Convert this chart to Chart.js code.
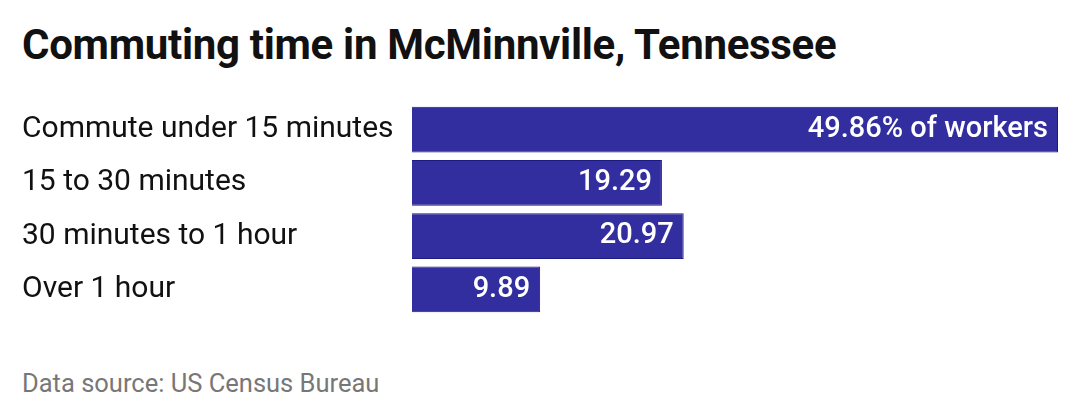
<!DOCTYPE html>
<html><head><meta charset="utf-8">
<script src="https://cdn.jsdelivr.net/npm/chart.js@4"></script>
<style>
body{margin:0;width:1080px;height:420px;background:#fff;font-family:Roboto,sans-serif;position:relative;overflow:hidden}
#t{position:absolute;left:22px;top:20px;font-size:42px;line-height:50px;font-weight:bold;color:#111;letter-spacing:-0.3px}
#s{position:absolute;left:22px;top:368px;font-size:25.5px;line-height:30px;color:#777}
canvas{position:absolute;left:22px;top:85px}
</style></head><body>
<div id="t">Commuting time in McMinnville, Tennessee</div>
<canvas id="c" width="1058" height="249" style="width:1058px;height:249px"></canvas>
<div id="s">Data source: US Census Bureau</div>
<script>
const categories=["Commute under 15 minutes","15 to 30 minutes","30 minutes to 1 hour","Over 1 hour"];
const values=[49.86,19.29,20.97,9.89];
const valueLabels=["49.86% of workers","19.29","20.97","9.89"];
const lab={id:'lab',afterDatasetsDraw(ch){const ctx=ch.ctx;const m=ch.getDatasetMeta(0);ctx.save();ctx.fillStyle='#fff';ctx.font='500 29px Roboto';ctx.textAlign='right';ctx.textBaseline='middle';m.data.forEach((b,i)=>ctx.fillText(valueLabels[i],b.x-10,b.y));ctx.restore();}};
new Chart(document.getElementById('c'),{type:'bar',data:{labels:categories,datasets:[{data:values,backgroundColor:'#332ea0',borderColor:'#1c1a7e',borderWidth:1,barPercentage:0.855,categoryPercentage:1}]},
options:{indexAxis:'y',responsive:false,animation:false,devicePixelRatio:1,layout:{padding:{left:0,right:22,top:0,bottom:0}},
plugins:{legend:{display:false},tooltip:{enabled:false}},
scales:{x:{display:false,min:0,max:49.86},y:{grid:{display:false},border:{display:false},afterFit(s){s.width=390;},ticks:{crossAlign:'far',color:'#111',font:{size:30,family:'Roboto'},padding:0}}}},plugins:[lab]});
</script></body></html>
